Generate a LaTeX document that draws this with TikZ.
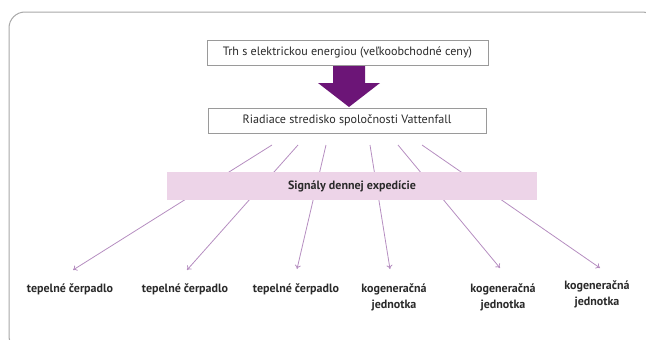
\documentclass[tikz,border=0pt]{standalone}
\usepackage{fontspec}
\setmainfont{PT Sans}
\usetikzlibrary{arrows.meta}
\definecolor{framegray}{HTML}{A8A8A8}
\definecolor{boxgray}{HTML}{9A9A9A}
\definecolor{bigarrow}{HTML}{6C1577}
\definecolor{linepurple}{HTML}{B58DC0}
\definecolor{bandpink}{HTML}{EDD4E8}
\definecolor{txt}{HTML}{2A2A2A}
\tikzset{
  x=1pt, y=-1pt,
  boxnode/.style={draw=boxgray, line width=0.9pt, fill=white, minimum height=25pt, inner sep=0pt, font=\fontsize{12.1}{13}\selectfont, text=txt},
  band/.style={fill=bandpink, draw=none, minimum height=28pt, inner sep=0pt, font=\bfseries\fontsize{12}{14}\selectfont, text=txt},
  lab/.style={font=\bfseries\fontsize{12}{16}\selectfont, text=txt, align=center, inner sep=0pt},
  conn/.style={draw=linepurple, line width=0.8pt, -{To[length=4pt,width=6pt]}}
}
\begin{document}
\begin{tikzpicture}
\useasboundingbox (0,0) rectangle (646,340);
\begin{scope}
\clip (0,0) rectangle (646,340);
\draw[framegray, line width=1pt, rounded corners=16pt] (9,12) rectangle (658,352);
\end{scope}

\node[boxnode, minimum width=281pt] (top) at (347.5,52.5) {Trh s elektrickou energiou (veľkoobchodné ceny)};
\node[boxnode, minimum width=278pt] (mid) at (347,120.5) {Riadiace stredisko spoločnosti Vattenfall};

\fill[bigarrow] (333,66) -- (365,66) -- (365,83) -- (380,83) -- (349,107) -- (318,83) -- (333,83) -- cycle;

\coordinate (s1) at (272,145);
\coordinate (s2) at (298,145);
\coordinate (s3) at (326,145);
\coordinate (s4) at (370,145);
\coordinate (s5) at (398,145);
\coordinate (s6) at (422,145);
\coordinate (e1) at (73,270);
\coordinate (e2) at (187,270);
\coordinate (e3) at (297,269);
\coordinate (e4) at (390,269);
\coordinate (e5) at (500,268);
\coordinate (e6) at (600,268);
\foreach \i in {1,...,6} { \draw[conn] (s\i) -- (e\i); }

\node[band, minimum width=370pt] (sig) at (352,186) {Signály dennej expedície};

\node[lab] (l1) at (70,289) {tepelné čerpadlo};
\node[lab] (l2) at (185,289) {tepelné čerpadlo};
\node[lab] (l3) at (296,289) {tepelné čerpadlo};
\node[lab] (l4) at (394,297) {kogeneračná\\jednotka};
\node[lab] (l5) at (503,297) {kogeneračná\\jednotka};
\node[lab] (l6) at (597,294) {kogeneračná\\jednotka};
\end{tikzpicture}
\end{document}
